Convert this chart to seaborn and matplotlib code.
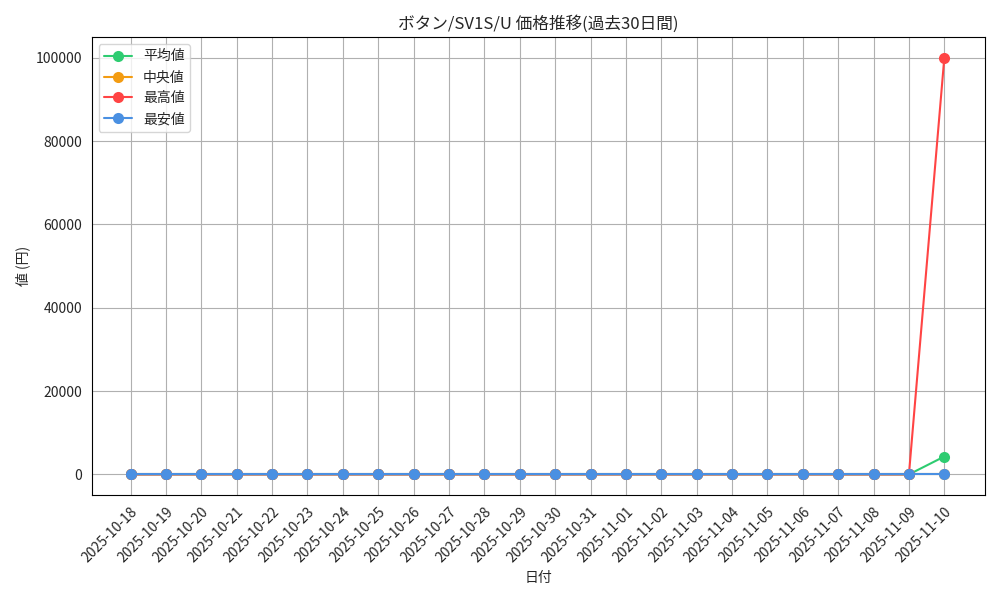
import pandas as pd
import matplotlib
matplotlib.use('Agg')
import matplotlib.pyplot as plt
import seaborn as sns

dates = pd.date_range('2025-10-18', '2025-11-10').strftime('%Y-%m-%d').tolist()
n = len(dates)
mean_vals = [0] * (n - 1) + [4300]
median_vals = [0] * n
max_vals = [0] * (n - 1) + [100000]
min_vals = [0] * n

sns.set_style('whitegrid')
plt.rcParams['font.family'] = ['Noto Sans CJK JP', 'DejaVu Sans']

df = pd.DataFrame({'日付': dates, '平均値': mean_vals, '中央値': median_vals,
                   '最高値': max_vals, '最安値': min_vals})
colors = {'平均値': '#2ecc71', '中央値': '#f39c12', '最高値': '#ff4444', '最安値': '#4a90e2'}

fig, ax = plt.subplots(figsize=(10, 6), dpi=100)
for col, c in colors.items():
    sns.lineplot(x=df['日付'], y=df[col], ax=ax, color=c, marker='o', markersize=8,
                 markeredgewidth=0, linewidth=1.5, label=col)
ax.set_title('ボタン/SV1S/U 価格推移(過去30日間)')
ax.set_xlabel('日付')
ax.set_ylabel('値 (円)')
ax.set_xlim(-1.1, n - 1 + 1.15)
ax.grid(True, color='#b0b0b0', linewidth=0.8)
for s in ax.spines.values():
    s.set_color('black')
    s.set_linewidth(0.8)
ax.tick_params(axis='both', length=3.5, color='black')
plt.setp(ax.get_xticklabels(), rotation=45, ha='right', rotation_mode='anchor')
ax.legend(loc='upper left', frameon=True)
plt.tight_layout()
plt.savefig('out.png', dpi=100)
